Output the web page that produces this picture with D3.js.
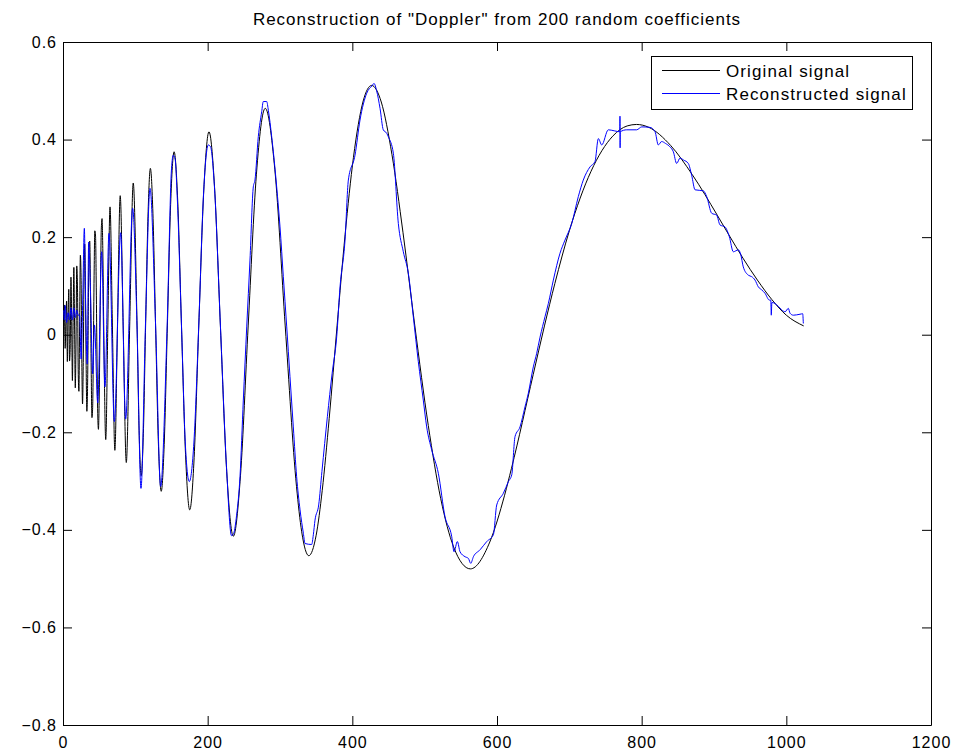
<!DOCTYPE html>
<html>
<head>
<meta charset="utf-8">
<script src="https://cdn.jsdelivr.net/npm/d3@7"></script>
<style>
  body { margin: 0; background: #fff; }
  text { font-family: "Liberation Sans", Arial, Helvetica, sans-serif; fill: #000; }
</style>
</head>
<body>
<svg id="chart" width="955" height="755"></svg>
<script>
// ---- data ----
const titleText = 'Reconstruction of "Doppler" from 200 random coefficients';
const seriesNames = ["Original signal", "Reconstructed signal"];

const xTicks = [0, 200, 400, 600, 800, 1000, 1200];
const xTickLabels = ["0", "200", "400", "600", "800", "1000", "1200"];
const yTicks = [-0.8, -0.6, -0.4, -0.2, 0, 0.2, 0.4, 0.6];
const yTickLabels = ["\u22120.8", "\u22120.6", "\u22120.4", "\u22120.2", "0", "0.2", "0.4", "0.6"];

// Original "Doppler" signal (sample index, value)
const origX = [
  1, 2, 3, 4, 5, 6, 7, 8, 9, 10, 11, 12, 13, 14, 15, 16, 17, 18, 19, 20,
  21, 22, 23, 24, 25, 26, 27, 28, 29, 30, 31, 32, 33, 34, 35, 36, 37, 38, 39, 40,
  41, 42, 43, 44, 45, 46, 47, 48, 49, 50, 51, 52, 53, 54, 55,
  56.3, 59.1, 62.0, 65.0, 68.3, 71.7, 75.3, 79.1, 83.2, 87.5, 92.2, 97.1, 102.4,
  105.2, 108.1, 111.1, 114.2, 117.5, 120.8, 124.3, 128.0, 131.8, 135.8, 139.9,
  144.3, 148.8, 153.6, 158.6, 163.8, 169.4, 175.2, 181.3, 187.7, 194.6, 201.8,
  209.5, 217.6, 226.3, 235.5, 245.4, 256.0, 267.4, 279.6, 292.9, 307.2, 322.8,
  330, 339.8, 350, 358.4, 368, 378.9, 390, 401.5, 415, 426.7, 440, 454.8, 470,
  486.4, 505, 522.2, 540, 563.2, 590, 610.5, 620, 650, 665.6, 680, 700, 730,
  760, 780, 793, 810, 840, 870, 904.5, 920, 940, 960, 980, 1000, 1024
];
const origY = [
  0.000, 0.061, -0.028, 0.027, 0.069, -0.055, 0.031, 0.093, -0.054, -0.023,
  0.118, 0.027, -0.094, 0.025, 0.138, 0.018, -0.109, -0.013, 0.141, 0.100,
  -0.071, -0.116, 0.027, 0.163, 0.117, -0.051, -0.142, -0.057, 0.110, 0.186,
  0.101, -0.063, -0.157, -0.104, 0.048, 0.179, 0.192, 0.081, -0.074, -0.170,
  -0.149, -0.027, 0.121, 0.213, 0.202, 0.096, -0.048, -0.161, -0.194, -0.134,
  -0.010, 0.126, 0.219, 0.238, 0.177,
  0.018, -0.215, 0.018, 0.262, 0.018, -0.237, 0.018, 0.285, 0.018, -0.262, 0.018, 0.311, 0.018,
  -0.197, -0.289, -0.202, 0.018, 0.243, 0.341, 0.249, 0.018, -0.219, -0.321, -0.225,
  0.018, 0.267, 0.375, 0.274, 0.018, -0.245, -0.359, -0.252, 0.018, 0.295, 0.416,
  0.303, 0.018, -0.280, -0.413, -0.288, 0.018, 0.329, 0.464, 0.338, 0.018, -0.311,
  -0.404, -0.453, -0.411, -0.319, -0.172, 0.018, 0.205, 0.363, 0.479, 0.511, 0.477, 0.369, 0.210,
  0.018, -0.186, -0.336, -0.435, -0.480, -0.425, -0.329, -0.274, -0.082, 0.018, 0.105, 0.213, 0.335,
  0.407, 0.428, 0.431, 0.425, 0.388, 0.328, 0.245, 0.206, 0.157, 0.112, 0.072, 0.040, 0.018
];

// Reconstructed signal (sample index, value)
const reconX = [
  1, 2, 3, 5, 7, 9, 11, 13, 15, 17, 19, 21, 23, 25, 27, 29.5, 31.5, 33.5, 35.5, 38,
  41, 43.5, 48, 53.5, 58, 63.6, 71, 79.7, 86.6, 96.3, 102.3, 107.8, 114, 120.3,
  128, 135, 144, 150, 152.5, 155, 158, 163.8, 169, 174.6, 181, 187.7, 194, 200.9,
  204, 209.5, 217.6, 226, 233, 236, 240, 244.7, 249.3, 254, 258.5, 263.1, 265.4,
  270, 274.7, 276.9, 281.6, 283.9, 288.5, 295.4, 300, 304.6, 309.3, 313.8, 318.4,
  323, 327.7, 332.3, 334.6, 343.8, 346.1, 348.4, 353.5, 358, 365.5, 372, 378.4,
  383, 389.9, 394.5, 403.7, 410.6, 419.9, 427, 430, 433.6, 438.3, 442.8, 447.5,
  450, 456.7, 463.6, 470.5, 477.4, 484.3, 491.2, 498.1, 502.8, 509.7, 518.9,
  528.1, 537.4, 540.6, 545.2, 548.9, 555.8, 560.4, 563.7, 567.4, 576.5, 585.8,
  595, 599.6, 608.8, 615.8, 620.4, 624.9, 631.8, 638.7, 643.3, 650.2, 654.9,
  659.5, 666.4, 671, 677.9, 687.1, 694, 703.3, 712.4, 719.3, 728.6, 735.5, 740.1,
  744.8, 753.9, 762, 769.8, 770, 770.2, 770.4, 779.3, 793.1, 800.1, 811.6, 818.5,
  823, 827.6, 833, 839.2, 843.8, 848.4, 853, 858, 864.5, 869.1, 873.8, 885.3,
  889.9, 896.8, 903.7, 908.3, 915.2, 921.2, 926.7, 933.6, 936.9, 940.5, 947.5,
  952.1, 956.7, 961.3, 965.9, 970.5, 976.5, 978.5, 979.2, 980, 984.4, 989, 993.6,
  998.2, 1002.8, 1005.1, 1009.7, 1018.9, 1022.6, 1023.5
];
const reconY = [
  0.050, 0.030, 0.060, 0.025, 0.045, 0.030, 0.055, 0.030, 0.055, 0.035, 0.050,
  0.040, 0.040, -0.050, 0.050, 0.218, 0.040, -0.060, 0.190, 0.090,
  -0.080, 0.020, -0.140, 0.170, -0.107, 0.208, -0.178, 0.209, -0.173, 0.259,
  0.020, -0.315, 0.020, 0.300,
  0.020, -0.311, 0.020, 0.340, 0.368, 0.360, 0.280, 0.020, -0.220, -0.301, -0.220,
  0.020, 0.280, 0.389,
  0.385, 0.300, 0.020, -0.270, -0.412, -0.407, -0.370, -0.291, -0.134, 0.016,
  0.153, 0.303, 0.317,
  0.406, 0.457, 0.478, 0.478, 0.460, 0.406, 0.303, 0.221, 0.119, 0.016, -0.086,
  -0.189,
  -0.291, -0.359, -0.407, -0.428, -0.430, -0.410, -0.380, -0.349, -0.280, -0.168,
  -0.080, -0.004,
  0.098, 0.194, 0.317, 0.368, 0.440, 0.495, 0.510, 0.515, 0.500, 0.464, 0.420,
  0.413,
  0.405, 0.372, 0.228, 0.170, 0.126, 0.037, -0.055, -0.134, -0.189, -0.236, -0.284,
  -0.373, -0.414, -0.445, -0.424, -0.445, -0.455, -0.4585, -0.4686, -0.455, -0.441,
  -0.424,
  -0.410, -0.349, -0.325, -0.301, -0.287, -0.209, -0.189, -0.148, -0.120, -0.066,
  -0.038,
  -0.005, 0.037, 0.064, 0.112, 0.167, 0.194, 0.228, 0.283, 0.317, 0.344, 0.355,
  0.402,
  0.389, 0.420, 0.418, 0.416, 0.448, 0.383, 0.416, 0.420, 0.420, 0.426, 0.425,
  0.416,
  0.389, 0.396, 0.392, 0.385, 0.375, 0.351, 0.362, 0.358, 0.351, 0.327, 0.297,
  0.295,
  0.283, 0.249, 0.245, 0.225, 0.221, 0.201, 0.170, 0.174, 0.165, 0.139, 0.122,
  0.119, 0.112, 0.098, 0.092, 0.085, 0.071, 0.071, 0.040, 0.066, 0.064, 0.058,
  0.051,
  0.047, 0.054, 0.044, 0.040, 0.042, 0.043, 0.023
];

// ---- layout ----
const plot = { left: 63, top: 42, right: 931, bottom: 725 };

const svg = d3.select("#chart");
const x = d3.scaleLinear().domain([0, 1200]).range([plot.left, plot.right]);
const y = d3.scaleLinear().domain([-0.8, 0.6]).range([plot.bottom, plot.top]);

const tickLen = 9;
const fontSize = 16;

// title
svg.append("text")
  .attr("x", (plot.left + plot.right) / 2)
  .attr("y", 25)
  .attr("text-anchor", "middle")
  .style("font-size", "17px")
  .style("letter-spacing", "1px")
  .text(titleText);

// axes: ticks point inward on all four sides, labels on bottom and left
function styleAxis(g) {
  g.selectAll("path.domain").attr("stroke", "#000");
  g.selectAll(".tick line").attr("stroke", "#000");
  g.selectAll(".tick text")
    .attr("font-family", null)
    .style("font-size", fontSize + "px")
    .style("letter-spacing", "1px")
    .attr("fill", "#000");
}

svg.append("g")
  .attr("transform", `translate(0,${plot.bottom})`)
  .call(d3.axisBottom(x).tickValues(xTicks)
    .tickFormat((d, i) => xTickLabels[i])
    .tickSizeInner(-tickLen).tickSizeOuter(0).tickPadding(12))
  .call(styleAxis);

svg.append("g")
  .attr("transform", `translate(0,${plot.top})`)
  .call(d3.axisTop(x).tickValues(xTicks).tickFormat("")
    .tickSizeInner(-tickLen).tickSizeOuter(0))
  .call(styleAxis);

svg.append("g")
  .attr("transform", `translate(${plot.left},0)`)
  .call(d3.axisLeft(y).tickValues(yTicks)
    .tickFormat((d, i) => yTickLabels[i])
    .tickSizeInner(-tickLen).tickSizeOuter(0).tickPadding(6))
  .call(styleAxis);

svg.append("g")
  .attr("transform", `translate(${plot.right},0)`)
  .call(d3.axisRight(y).tickValues(yTicks).tickFormat("")
    .tickSizeInner(-tickLen).tickSizeOuter(0))
  .call(styleAxis);

// series
const origData = origX.map((v, i) => [v, origY[i]]);
const reconData = reconX.map((v, i) => [v, reconY[i]]);

const line = d3.line()
  .x(d => x(d[0]))
  .y(d => y(d[1]))
  .curve(d3.curveMonotoneX);

svg.append("path")
  .datum(origData)
  .attr("fill", "none")
  .attr("stroke", "#000")
  .attr("stroke-width", 1)
  .attr("d", line);

svg.append("path")
  .datum(reconData)
  .attr("fill", "none")
  .attr("stroke", "#0000ff")
  .attr("stroke-width", 1)
  .attr("d", line);

// legend
const legend = svg.append("g");
legend.append("rect")
  .attr("x", 651.5).attr("y", 56.5)
  .attr("width", 261).attr("height", 53)
  .attr("fill", "#fff").attr("stroke", "#000").attr("stroke-width", 1);

const legendColors = ["#000", "#0000ff"];
const legendRows = [70.5, 93.5];
seriesNames.forEach((name, i) => {
  legend.append("line")
    .attr("x1", 662).attr("x2", 720)
    .attr("y1", legendRows[i]).attr("y2", legendRows[i])
    .attr("stroke", legendColors[i]).attr("stroke-width", 1);
  legend.append("text")
    .attr("x", 726).attr("y", legendRows[i] + 6)
    .style("font-size", "17px")
    .style("letter-spacing", "1.1px")
    .text(name);
});
</script>
</body>
</html>
